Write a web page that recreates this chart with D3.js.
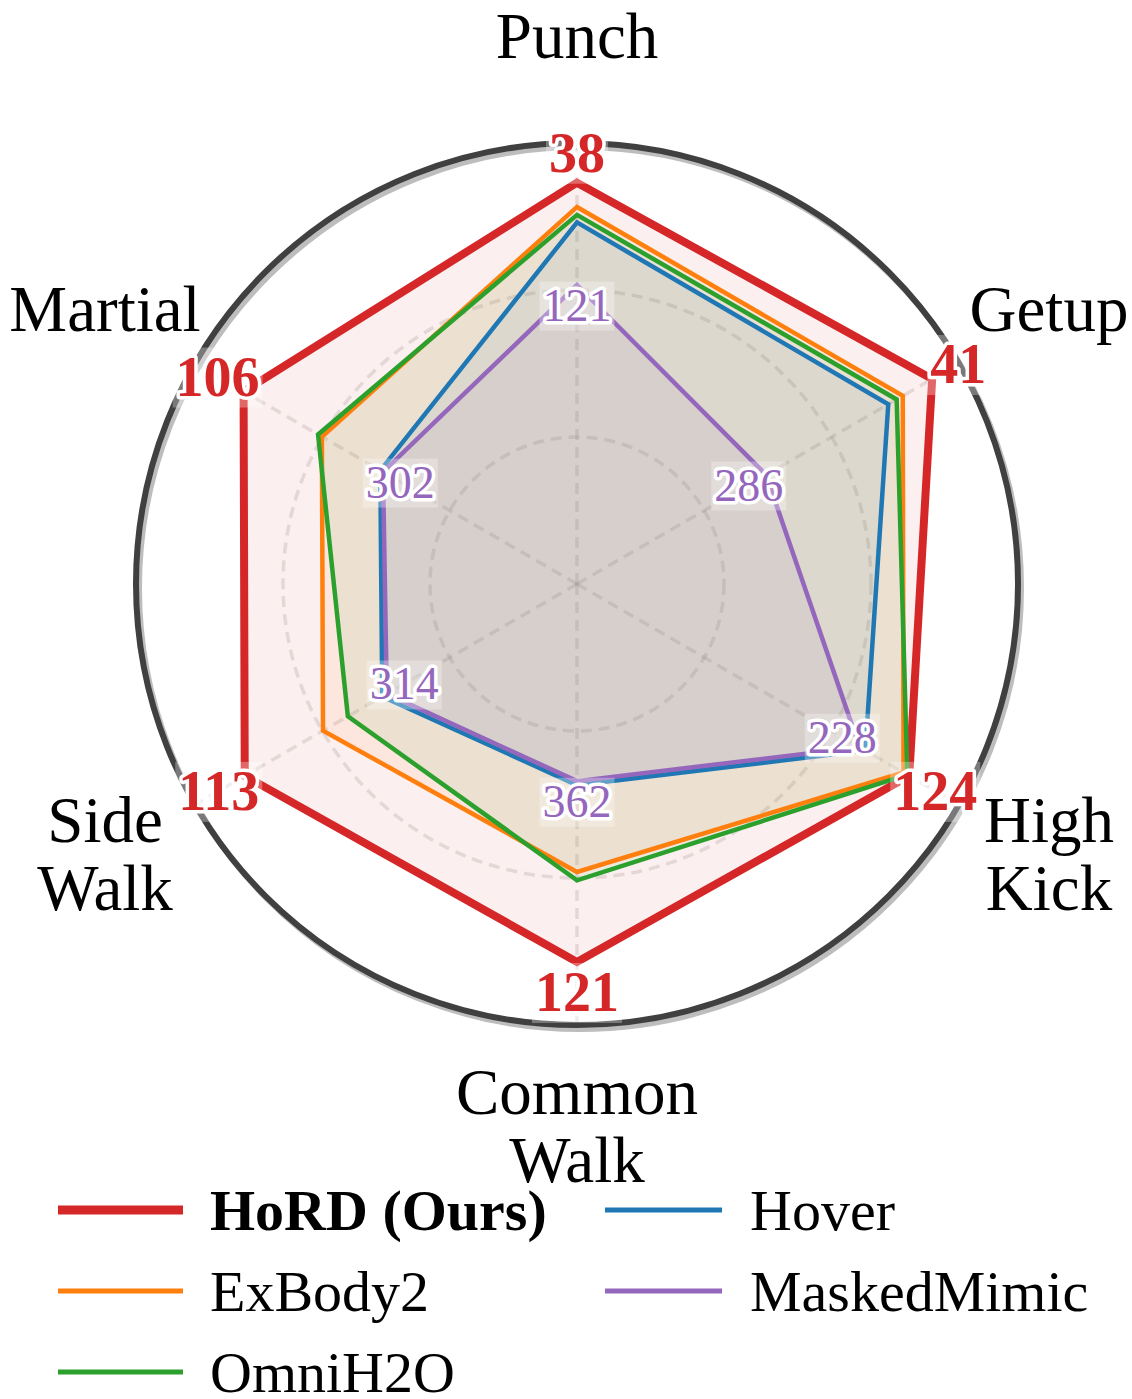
<!DOCTYPE html>
<html>
    <head>
        <title>Radar</title>
        <script src="https://d3js.org/d3.v7.min.js"></script>
        <style>
         body { margin: 0; background: #fff; }
         svg { display: block; font-family: "Liberation Serif", "Times New Roman", serif; }
        </style>
    </head>
    <body>
        <svg width="1132" height="1399"></svg>

        <script>
         // axes clockwise from the top
         const axisNames = [["Punch"], ["Getup"], ["High", "Kick"], ["Common", "Walk"], ["Side", "Walk"], ["Martial"]];

         // radial position of each vertex (share of the outer circle)
         const hord        = [0.910, 0.930, 0.870, 0.857, 0.870, 0.873];
         const exbody2     = [0.855, 0.853, 0.855, 0.653, 0.665, 0.668];
         const omnih2o     = [0.837, 0.837, 0.865, 0.672, 0.600, 0.678];
         const hover       = [0.820, 0.815, 0.755, 0.456, 0.510, 0.515];
         const maskedmimic = [0.678, 0.495, 0.740, 0.447, 0.498, 0.508];

         // numbers printed at the vertices
         const hordLabels = [38, 41, 124, 121, 113, 106];
         const maskedLabels = [121, 286, 228, 362, 314, 302];

         const seriesNames = ["HoRD (Ours)", "ExBody2", "OmniH2O", "Hover", "MaskedMimic"];
         const seriesColors = ["#d62728", "#ff7f0e", "#2ca02c", "#1f77b4", "#9467bd"];
         const seriesValues = [hord, exbody2, omnih2o, hover, maskedmimic];

         const svg = d3.select("svg");
         const cx = 577, cy = 584, R = 441;

         const rScale = d3.scaleLinear().domain([0, 1]).range([0, R]);
         const aScale = d3.scaleLinear().domain([0, axisNames.length]).range([0, 2 * Math.PI]);

         const g = svg.append("g").attr("transform", `translate(${cx},${cy})`);

         const px = (i, r) => Math.sin(aScale(i)) * r;
         const py = (i, r) => -Math.cos(aScale(i)) * r;

         // grid
         const gridStyle = sel => sel.attr("fill", "none")
                                    .attr("stroke", "rgba(150,140,140,0.22)")
                                    .attr("stroke-width", 3.5)
                                    .attr("stroke-dasharray", "11,7");
         g.selectAll(".ring")
          .data([1 / 3, 2 / 3])
          .join("circle")
          .attr("class", "ring")
          .attr("r", d => rScale(d))
          .call(gridStyle);

         g.selectAll(".spoke")
          .data(axisNames)
          .join("line")
          .attr("class", "spoke")
          .attr("x1", 0).attr("y1", 0)
          .attr("x2", (d, i) => px(i, rScale(1)))
          .attr("y2", (d, i) => py(i, rScale(1)))
          .call(gridStyle);

         // outer frame with its shadow
         g.append("circle")
          .attr("cx", 3).attr("cy", 4)
          .attr("r", rScale(1))
          .attr("fill", "none")
          .attr("stroke", "#bdbdbd")
          .attr("stroke-width", 6);
         g.append("circle")
          .attr("r", rScale(1))
          .attr("fill", "none")
          .attr("stroke", "#404040")
          .attr("stroke-width", 6);

         const radial = d3.lineRadial()
                          .angle((d, i) => aScale(i))
                          .radius(d => rScale(d))
                          .curve(d3.curveLinearClosed);

         g.selectAll(".area")
          .data(seriesValues)
          .join("path")
          .attr("class", "area")
          .attr("d", d => radial(d))
          .attr("fill", (d, i) => seriesColors[i])
          .attr("fill-opacity", 0.075)
          .attr("stroke", "none");

         g.selectAll(".outline")
          .data(seriesValues)
          .join("path")
          .attr("class", "outline")
          .attr("d", d => radial(d))
          .attr("fill", "none")
          .attr("stroke", (d, i) => seriesColors[i])
          .attr("stroke-width", (d, i) => i === 0 ? 8 : 4.5)
          .attr("stroke-linejoin", "miter");

         // value labels with a faint box and a white outline
         function valueLabel(x, y, text, color, size, weight) {
             const lg = g.append("g");
             const t = lg.append("text")
                         .attr("x", x).attr("y", y)
                         .attr("dy", "0.34em")
                         .attr("text-anchor", "middle")
                         .attr("font-size", size)
                         .attr("font-weight", weight)
                         .attr("fill", color)
                         .attr("stroke", "#fff")
                         .attr("stroke-width", 7)
                         .attr("stroke-linejoin", "round")
                         .attr("paint-order", "stroke")
                         .text(text);
             const b = t.node().getBBox();
             lg.insert("rect", "text")
               .attr("x", b.x - 3).attr("y", b.y + 2)
               .attr("width", b.width + 6).attr("height", b.height - 2)
               .attr("fill", "#fff")
               .attr("opacity", 0.3);
         }

         hordLabels.forEach((v, i) => {
             const r = rScale(hord[i]) + 30;
             valueLabel(px(i, r), py(i, r), v, seriesColors[0], 56, "bold");
         });
         maskedLabels.forEach((v, i) => {
             // pushed inward, except the bottom one which sits below its vertex
             const r = rScale(maskedmimic[i]) + (i === 3 ? 20 : -20);
             valueLabel(px(i, r), py(i, r), v, seriesColors[4], 46, "normal");
         });

         // axis names
         const labelR = 545, lineGap = 68;
         axisNames.forEach((lines, i) => {
             const t = g.append("text")
                        .attr("text-anchor", "middle")
                        .attr("font-size", 65)
                        .attr("fill", "#000");
             lines.forEach((s, k) => {
                 t.append("tspan")
                  .attr("x", px(i, labelR))
                  .attr("y", py(i, labelR) - 3 + (k - (lines.length - 1) / 2) * lineGap)
                  .attr("dy", "0.34em")
                  .text(s);
             });
         });

         // legend, two columns
         const legendRows = [1210, 1291, 1372];
         const legendCols = [{x1: 58, x2: 183, tx: 210}, {x1: 605, x2: 722, tx: 750}];
         const legend = svg.append("g");
         seriesNames.forEach((name, i) => {
             const col = legendCols[i < 3 ? 0 : 1];
             const y = legendRows[i < 3 ? i : i - 3];
             legend.append("line")
                   .attr("x1", col.x1).attr("x2", col.x2)
                   .attr("y1", y).attr("y2", y)
                   .attr("stroke", seriesColors[i])
                   .attr("stroke-width", i === 0 ? 9 : 5);
             legend.append("text")
                   .attr("x", col.tx).attr("y", y)
                   .attr("dy", "0.34em")
                   .attr("font-size", 58)
                   .attr("font-weight", i === 0 ? "bold" : "normal")
                   .text(name);
         });
        </script>
    </body>
</html>
